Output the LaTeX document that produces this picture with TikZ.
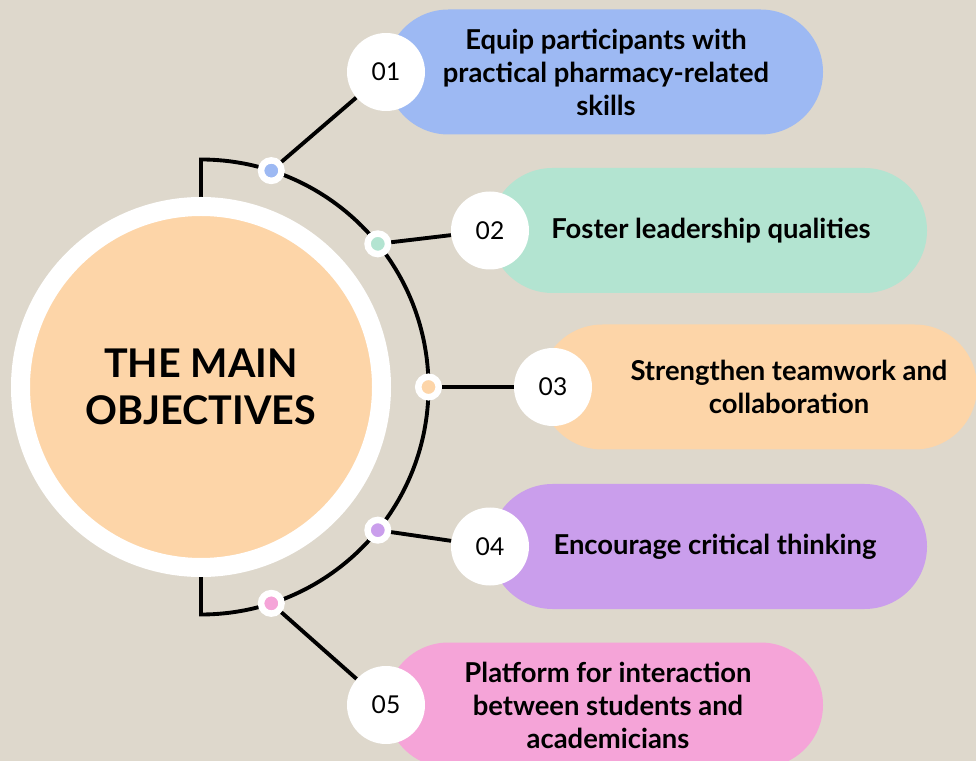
\documentclass[tikz,border=0pt]{standalone}
\usepackage{fontspec}
\setmainfont{Lato}
\usetikzlibrary{calc,positioning}
\definecolor{PaperBeige}{RGB}{222,216,204}
\definecolor{ObjBlue}{RGB}{157,185,243}
\definecolor{ObjGreen}{RGB}{179,228,209}
\definecolor{ObjPeach}{RGB}{253,213,168}
\definecolor{ObjPurple}{RGB}{202,158,236}
\definecolor{ObjPink}{RGB}{245,164,216}
\tikzset{
  numdot/.style={circle,fill=white,minimum size=1.56cm,inner sep=0pt,font=\fontsize{14}{16}\selectfont},
  pindot/.style={circle,draw=white,line width=0.13cm,minimum size=0.41cm,inner sep=0pt},
  objtext/.style={align=center,font=\fontsize{15.6}{18.8}\selectfont\bfseries},
  link/.style={line width=2.2pt}
}

\begin{document}
\begin{tikzpicture}
\clip (-4.02,-7.48) rectangle (15.5,7.74);
\fill[PaperBeige] (-4.02,-7.48) rectangle (15.5,7.74);
\draw[link] (0,0) -- (0,4.55) arc[start angle=90,end angle=-90,radius=4.55] -- (0,0);
\node[circle,fill=ObjPeach,draw=white,line width=0.38cm,minimum size=7.22cm,align=center,
  font=\fontsize{22.5}{27}\selectfont\bfseries] (main) at (0,0) {THE MAIN\\OBJECTIVES};
\foreach \i/\a/\px/\nx/\tx/\y/\c/\t in {
  1/72/3.7/3.7/8.1/6.3/ObjBlue/{Equip participants with\\practical pharmacy-related\\skills},
  2/39/5.78/5.78/10.2/3.13/ObjGreen/{Foster leadership qualities},
  3/0/6.78/7.04/11.76/0/ObjPeach/{Strengthen teamwork and\\collaboration},
  4/-39/5.78/5.78/10.28/-3.19/ObjPurple/{Encourage critical thinking},
  5/-72/3.7/3.7/8.14/-6.36/ObjPink/{Platform for interaction\\between students and\\academicians}}{
  \fill[\c,rounded corners=1.25cm] (\px,\y-1.25) rectangle (\px+8.74,\y+1.25);
  \node[numdot] (n\i) at (\nx,\y) {0\i};
  \node[objtext] (t\i) at (\tx,\y) {\t};
  \node[pindot,fill=\c] (d\i) at (\a:4.55) {};
  \draw[link] (d\i) -- (n\i);
}
\end{tikzpicture}
\end{document}
